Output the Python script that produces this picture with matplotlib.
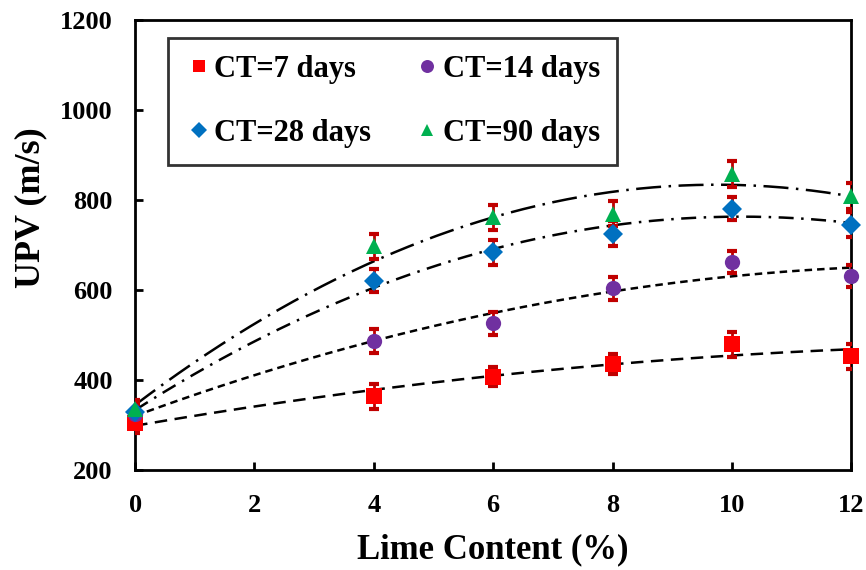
import numpy as np
import matplotlib
matplotlib.use("Agg")
import matplotlib.pyplot as plt

plt.rcParams['font.family'] = ['Liberation Serif', 'DejaVu Serif']
plt.rcParams['font.weight'] = 'bold'

lime = [0, 4, 6, 8, 10, 12]

upv_7 = [305, 364, 408, 436, 480, 453]
upv_14 = [325, 487, 526, 604, 662, 631]
upv_28 = [330, 621, 684, 725, 781, 745]
upv_90 = [335, 697, 762, 770, 858, 809]

err_7 = [22, 28, 22, 22, 28, 28]
err_14 = [22, 26, 25, 25, 25, 25]
err_28 = [22, 26, 28, 28, 26, 28]
err_90 = [22, 28, 28, 28, 28, 28]

labels = ['CT=7 days', 'CT=14 days', 'CT=28 days', 'CT=90 days']
colors = ['#FF0000', '#7030A0', '#0070C0', '#00B050']
markers = ['s', 'o', 'D', '^']
msizes = [11, 11, 10, 11]
trend_styles = [(0, (5, 3)), (0, (3, 2)), (0, (6, 3, 1, 3)), (0, (10, 3, 1, 3))]

fig = plt.figure(figsize=(8.66, 5.70), dpi=100)
ax = fig.add_axes([0.156, 0.175, 0.827, 0.79])

series = [upv_7, upv_14, upv_28, upv_90]
errs = [err_7, err_14, err_28, err_90]
xs = np.linspace(0, 12, 200)

# second order trend lines through each curing time
for ys, ls in zip(series, trend_styles):
    coef = np.polyfit(lime, ys, 2)
    ax.plot(xs, np.polyval(coef, xs), color='black', lw=1.8, ls=ls, zorder=2)

handles = []
for ys, er, c, m, s, lab in zip(series, errs, colors, markers, msizes, labels):
    ax.errorbar(lime, ys, yerr=er, fmt='none', ecolor='#C00000', elinewidth=2,
                capsize=3.5, capthick=3, zorder=3)
    h, = ax.plot(lime, ys, ls='none', marker=m, color=c, markersize=s,
                 markeredgewidth=0, label=lab, zorder=4, clip_on=False)
    handles.append(h)

ax.set_xlim(0, 12)
ax.set_ylim(200, 1200)
ax.set_xticks(range(0, 13, 2))
ax.set_yticks(range(200, 1201, 200))
ax.tick_params(direction='in', length=6, width=2, labelsize=19)
ax.tick_params(axis='x', pad=17)
ax.tick_params(axis='y', pad=16)
for sp in ax.spines.values():
    sp.set_linewidth(2)

ax.set_xlabel('Lime Content (%)', fontsize=25, fontweight='bold', labelpad=12)
ax.set_ylabel('UPV (m/s)', fontsize=26, fontweight='bold')
ax.yaxis.set_label_coords(-0.123, 0.584)

order = [handles[0], handles[2], handles[1], handles[3]]
leg = ax.legend(order, [h.get_label() for h in order], ncol=2, loc='upper left',
                bbox_to_anchor=(0.046, 0.96), fontsize=22, frameon=True,
                fancybox=False, edgecolor='black', handletextpad=0.05,
                handlelength=0.9, columnspacing=1.4, labelspacing=1.15,
                borderpad=0.55, borderaxespad=0, markerscale=0.85)
leg.get_frame().set_linewidth(2)

fig.savefig('out.png', dpi=100)
